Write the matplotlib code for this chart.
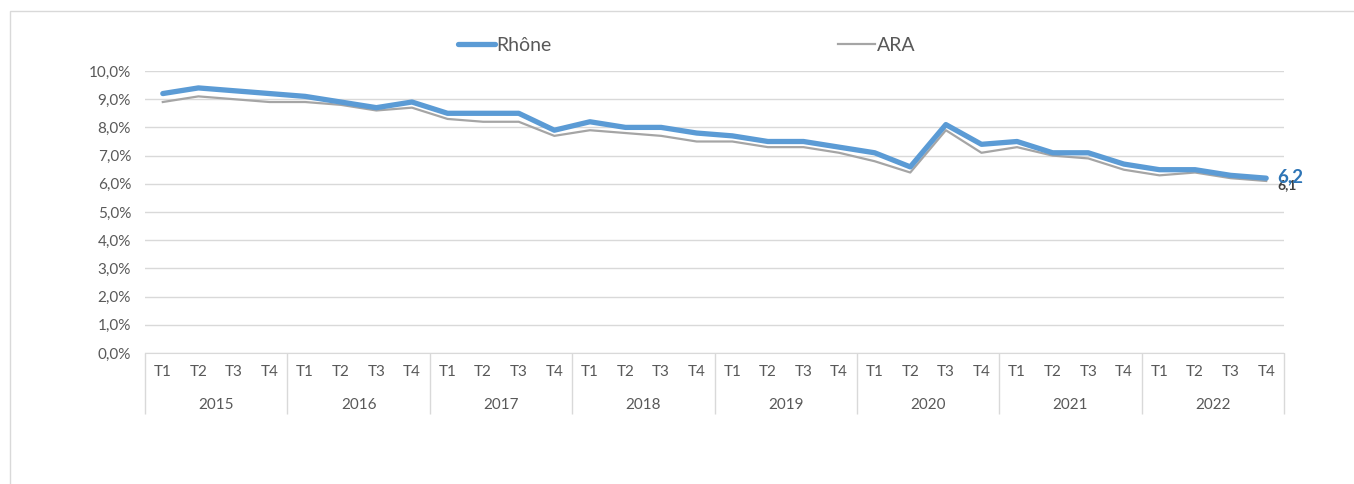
import matplotlib.pyplot as plt
from matplotlib.patches import Rectangle
from matplotlib.ticker import FuncFormatter

plt.rcParams['font.family'] = ['Lato', 'DejaVu Sans']

years = ['2015', '2016', '2017', '2018', '2019', '2020', '2021', '2022']
quarters = ['T1', 'T2', 'T3', 'T4']

rhone = [9.2, 9.4, 9.3, 9.2,
         9.1, 8.9, 8.7, 8.9,
         8.5, 8.5, 8.5, 7.9,
         8.2, 8.0, 8.0, 7.8,
         7.7, 7.5, 7.5, 7.3,
         7.1, 6.6, 8.1, 7.4,
         7.5, 7.1, 7.1, 6.7,
         6.5, 6.5, 6.3, 6.2]

ara = [8.9, 9.1, 9.0, 8.9,
       8.9, 8.8, 8.6, 8.7,
       8.3, 8.2, 8.2, 7.7,
       7.9, 7.8, 7.7, 7.5,
       7.5, 7.3, 7.3, 7.1,
       6.8, 6.4, 7.9, 7.1,
       7.3, 7.0, 6.9, 6.5,
       6.3, 6.4, 6.2, 6.1]

W, H = 1354, 484
fig = plt.figure(figsize=(W / 100, H / 100), dpi=100)

# outer chart frame (only left/top edges fall inside the picture)
fig.add_artist(Rectangle((10 / W, -0.1), 1.2, (H - 11) / H + 0.1,
                         transform=fig.transFigure, fill=False,
                         edgecolor='#D9D9D9', linewidth=1))

left, right, top, bottom = 145, 1284, 71, 353
ax = fig.add_axes([left / W, (H - bottom) / H, (right - left) / W, (bottom - top) / H])

n = len(rhone)
x = list(range(n))
ax.set_xlim(-0.5, n - 0.5)
ax.set_ylim(0, 10)

gray = '#595959'
ax.plot(x, ara, color='#A5A5A5', linewidth=1.6, label='ARA', zorder=3)
ax.plot(x, rhone, color='#5B9BD5', linewidth=3.8, label='Rhône',
        solid_capstyle='round', zorder=4)

ax.set_yticks(range(0, 11))
ax.yaxis.set_major_formatter(FuncFormatter(lambda v, p: f'{v:.1f}%'.replace('.', ',')))
ax.tick_params(axis='y', length=0, labelsize=11, labelcolor=gray, pad=10)
ax.grid(axis='y', color='#D9D9D9', linewidth=1)
ax.set_axisbelow(True)
for s in ['top', 'right', 'left']:
    ax.spines[s].set_visible(False)
ax.spines['bottom'].set_color('#D9D9D9')
ax.set_xticks([])

# two-level category axis
xt = ax.get_xaxis_transform()
for i in range(n):
    ax.text(i, -0.067, quarters[i % 4], transform=xt, ha='center', va='center',
            fontsize=11, color=gray)
for k, yr in enumerate(years):
    ax.text(4 * k + 1.5, -0.184, yr, transform=xt, ha='center', va='center',
            fontsize=11, color=gray)
ax.vlines([4 * k - 0.5 for k in range(len(years) + 1)], -0.216, 0, transform=xt,
          colors='#D9D9D9', linewidth=1, clip_on=False)

# end labels (they overlap in the original too)
ax.annotate(str(ara[-1]).replace('.', ','), (n - 1, ara[-1]), xytext=(8, -3),
            textcoords='offset points', fontsize=10, fontweight='bold',
            color='#404040', va='center', ha='left')
ax.annotate(str(rhone[-1]).replace('.', ','), (n - 1, rhone[-1]), xytext=(8, 1),
            textcoords='offset points', fontsize=13.5, fontweight='bold',
            color='#2E75B6', va='center', ha='left')

h, l = ax.get_legend_handles_labels()
fig.legend([h[1], h[0]], [l[1], l[0]], loc='center', bbox_to_anchor=(0.507, 0.907),
           ncol=2, frameon=False, fontsize=14, labelcolor=gray,
           handlelength=1.9, handletextpad=0.1, columnspacing=14.7)

fig.savefig('out.png', dpi=100)
